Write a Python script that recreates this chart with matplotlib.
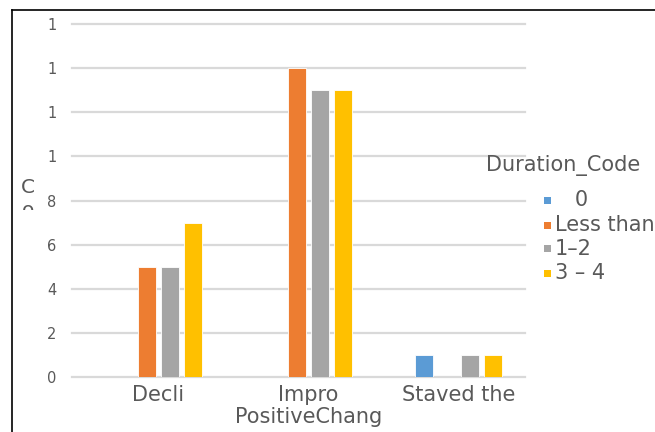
import matplotlib
matplotlib.use("Agg")
import matplotlib.pyplot as plt
from matplotlib.lines import Line2D
from matplotlib.patches import Rectangle
from matplotlib.transforms import Bbox
import numpy as np

categories = ["Decli", "Impro\nPositiveChang", "Staved the"]
series_names = ["   0", "Less than", "1\u20132", "3 \u2013 4"]
series_colors = ["#5B9BD5", "#ED7D31", "#A5A5A5", "#FFC000"]
vals_0 = [0, 0, 1]
vals_less = [5, 14, 0]
vals_12 = [5, 13, 1]
vals_34 = [7, 13, 1]
ytick_values = [0, 2, 4, 6, 8, 10, 12, 14, 16]
ytick_labels = ["0", "2", "4", "6", "8", "1", "1", "1", "1"]
legend_title = "Duration_Code"
y_title = "C"

W, H = 655, 432
TXT = "#595959"
FONT = "DejaVu Sans"
plt.rcParams["font.family"] = [FONT]

fig = plt.figure(figsize=(W / 100, H / 100), dpi=100)

def fx(px):
    return px / W

def fy(py):
    return 1 - py / H

ax = fig.add_axes([fx(72), fy(377), fx(525) - fx(72), fy(24) - fy(377)])
ax.set_xlim(-0.577, 2.443)
ax.set_ylim(0, 16)

x = np.arange(len(categories))
slot = 0.153
bw = 0.122
all_vals = [vals_0, vals_less, vals_12, vals_34]
for i, (vals, col) in enumerate(zip(all_vals, series_colors)):
    ax.bar(x + (i - 1.5) * slot, vals, width=bw, color=col,
           edgecolor="white", linewidth=0.6, zorder=3)

for v in ytick_values:
    ax.axhline(v, color="#D9D9D9", lw=1.6, zorder=1, clip_on=False)

for s in ax.spines.values():
    s.set_visible(False)

ax.set_yticks(ytick_values)
ax.set_yticklabels(ytick_labels, fontsize=10.5, color=TXT)
ax.set_xticks(x)
ax.set_xticklabels(categories, fontsize=15, color=TXT, linespacing=1.1)
ax.tick_params(axis="y", length=0, pad=11)
ax.tick_params(axis="x", length=0, pad=6)

# Y title (clipped, as in the reference)
fig.text(fx(28), fy(188), y_title, fontsize=14.5, color=TXT, ha="center", va="center")
t_o = fig.text(fx(28), fy(211), "o", fontsize=14.5, color=TXT, ha="center", va="center")
t_o.set_clip_box(Bbox([[0, H - 210], [W, H]]))
t_o.set_clip_on(True)

# Legend
fig.text(fx(486), fy(166), legend_title, fontsize=15, color=TXT, ha="left", va="center")
legend_y = [200, 225, 249, 273]
for name, col, yy in zip(series_names, series_colors, legend_y):
    fig.patches.append(Rectangle((fx(544), fy(yy + 3.5)), fx(7), 7 / H,
                                 transform=fig.transFigure, facecolor=col,
                                 edgecolor="none", figure=fig))
    fig.text(fx(555), fy(yy), name, fontsize=15, color=TXT, ha="left", va="center")

# Border of the chart area
fig.add_artist(Line2D([fx(12), fx(12)], [fy(10), 0], color="black", lw=1.2,
                      transform=fig.transFigure))
fig.add_artist(Line2D([fx(12), 1], [fy(10), fy(10)], color="black", lw=1.2,
                      transform=fig.transFigure))

fig.savefig("out.png", dpi=100)
